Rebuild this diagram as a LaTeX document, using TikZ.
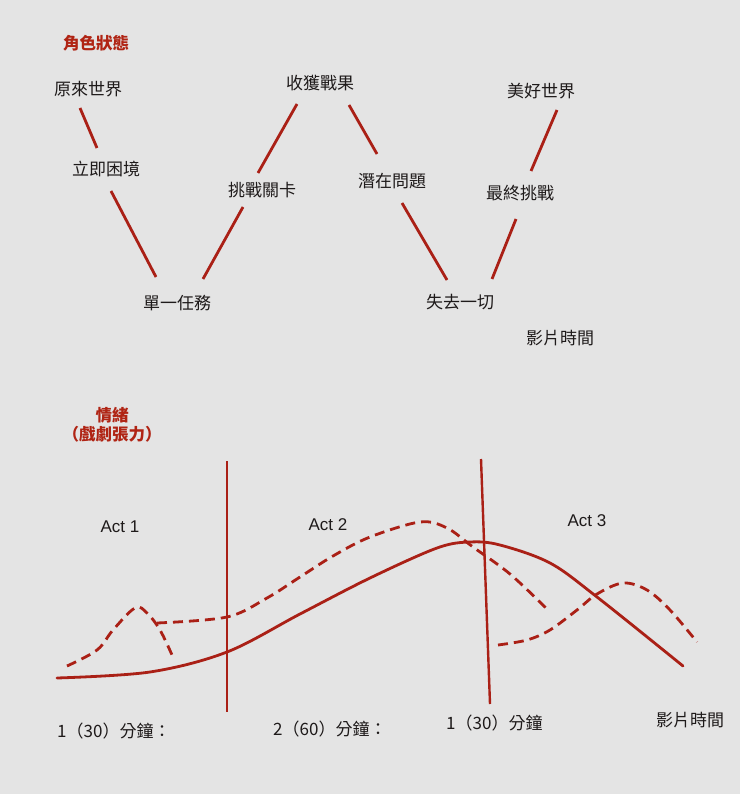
\documentclass[tikz,border=0pt]{standalone}
\usepackage{fontspec}
\setmainfont{Liberation Sans}
\newfontfamily\cjk{Noto Sans CJK TC}
\definecolor{bg}{RGB}{228,228,228}
\definecolor{lred}{RGB}{170,32,22}
\definecolor{tred}{RGB}{176,36,20}
\definecolor{ink}{RGB}{30,26,26}
\tikzset{
  lbl/.style={inner sep=0pt, text=ink, font=\cjk\fontsize{17}{17}\selectfont},
  ttl/.style={inner sep=0pt, text=tred, font=\cjk\bfseries\fontsize{16.5}{19}\selectfont, align=center},
  act/.style={inner sep=0pt, text=ink, font=\fontsize{17}{17}\selectfont},
  seg/.style={draw=lred, line width=2.8pt},
  divider/.style={draw=lred, line width=2.4pt},
  curve/.style={draw=lred, line width=2.8pt, line cap=round},
  dcurve/.style={draw=lred, line width=2.8pt, dash pattern=on 10pt off 6pt},
}
\begin{document}
\begin{tikzpicture}[x=1pt,y=-1pt]
\fill[bg] (0,0) rectangle (740,794);
\useasboundingbox (0,0) rectangle (740,794);
% ---- top part
\node[ttl] (t1) at (96,43) {角色狀態};
\node[lbl] (n1) at (88,89) {原來世界};
\node[lbl] (n2) at (106,169) {立即困境};
\node[lbl] (n3) at (177,303) {單一任務};
\node[lbl] (n4) at (262,190) {挑戰關卡};
\node[lbl] (n5) at (320,83) {收獲戰果};
\node[lbl] (n6) at (392,181) {潛在問題};
\node[lbl] (n7) at (460,302) {失去一切};
\node[lbl] (n8) at (520,193) {最終挑戰};
\node[lbl] (n9) at (541,91) {美好世界};
\node[lbl] (tt) at (560,338) {影片時間};
\coordinate (a1) at (80,108);  \coordinate (a2) at (97,148);
\coordinate (b1) at (111,191); \coordinate (b2) at (156,277);
\coordinate (c1) at (203,279); \coordinate (c2) at (243,207);
\coordinate (d1) at (258,173); \coordinate (d2) at (297,104);
\coordinate (e1) at (349,105); \coordinate (e2) at (377,154);
\coordinate (f1) at (402,203); \coordinate (f2) at (447,280);
\coordinate (g1) at (492,279); \coordinate (g2) at (516,219);
\coordinate (h1) at (531,171); \coordinate (h2) at (557,110);
\draw[seg] (a1) -- (a2);
\draw[seg] (b1) -- (b2);
\draw[seg] (c1) -- (c2);
\draw[seg] (d1) -- (d2);
\draw[seg] (e1) -- (e2);
\draw[seg] (f1) -- (f2);
\draw[seg] (g1) -- (g2);
\draw[seg] (h1) -- (h2);
% ---- bottom part
\node[ttl] (t2) at (112,425) {情緒\\（戲劇張力）};
\node[act] (act1) at (120,527) {Act 1};
\node[act] (act2) at (328,525) {Act 2};
\node[act] (act3) at (587,521) {Act 3};
\node[lbl,anchor=west] (m1) at (57,731) {1（30）分鐘：};
\node[lbl,anchor=west] (m2) at (273,729) {2（60）分鐘：};
\node[lbl,anchor=west] (m3) at (446,723) {1（30）分鐘};
\node[lbl] (m4) at (690,720) {影片時間};
\coordinate (v1a) at (227,461); \coordinate (v1b) at (227,712);
\coordinate (v2a) at (481,459); \coordinate (v2b) at (490,704);
\draw[divider] (v1a) -- (v1b);
\draw[divider] (v2a) -- (v2b);
\draw[curve] plot[smooth, tension=0.55] coordinates {(57,678) (150,672) (227,652) (300,614) (370,578) (437,548) (470,542) (500,545) (550,563) (597,597) (683,666)};
\draw[dcurve] plot[smooth, tension=0.6] coordinates {(67,666) (97,650) (113,630) (135,608) (147,613) (160,630) (172,655)};
\draw[dcurve] plot[smooth, tension=0.55] coordinates {(157,623) (227,617) (267,598) (300,577) (333,556) (370,537) (420,522) (447,528) (473,547) (510,574) (547,609)};
\draw[dcurve] plot[smooth, tension=0.55] coordinates {(498,645) (527,640) (550,630) (577,610) (597,594) (623,583) (647,590) (670,610) (697,642)};
\end{tikzpicture}
\end{document}
